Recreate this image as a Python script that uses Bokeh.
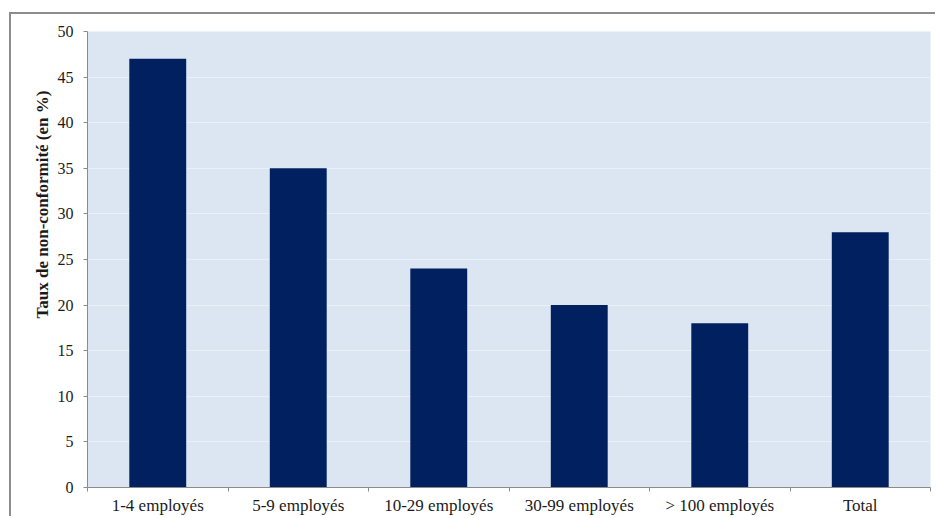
from bokeh.plotting import figure
from bokeh.models import Range1d, LinearAxis, FixedTicker, ColumnDataSource, Title
from bokeh.embed import file_html
from bokeh.resources import INLINE

categories = ["1-4 employés", "5-9 employés", "10-29 employés",
              "30-99 employés", "> 100 employés", "Total"]
taux = [47, 35, 24, 20, 18, 28]
y_ticks = [0, 5, 10, 15, 20, 25, 30, 35, 40, 45, 50]

SERIF = "Liberation Serif"
AXIS_GREY = "#8a8a8a"
TEXT = "#1a1a1a"

n = len(categories)
centers = [i + 0.5 for i in range(n)]
bounds = list(range(n + 1))
source = ColumnDataSource(data=dict(x=centers, taux=taux, cat=categories))

p = figure(
    width=926, height=504,
    x_range=Range1d(0, n),
    y_range=Range1d(0, 50),
    output_backend="svg", toolbar_location=None,
    x_axis_location=None, y_axis_location=None,
    min_border_left=76, min_border_right=7,
    min_border_top=17, min_border_bottom=31,
)
p.margin = (12, 0, 0, 9)
p.styles = {"border-top": "2px solid #8c8c8c", "border-left": "2px solid #8c8c8c"}

p.background_fill_color = "#dce6f2"
p.border_fill_color = "white"
p.outline_line_color = None

p.vbar(x="x", top="taux", width=0.405, source=source,
       fill_color="#002060", line_color=None)

# y axis
yax = LinearAxis(ticker=FixedTicker(ticks=y_ticks))
yax.major_label_text_font = SERIF
yax.major_label_text_font_size = "16px"
yax.major_label_text_color = TEXT
yax.major_label_standoff = 10
yax.axis_line_color = AXIS_GREY
yax.major_tick_line_color = AXIS_GREY
yax.major_tick_in = 0
yax.major_tick_out = 4
yax.minor_tick_line_color = None
p.add_layout(yax, "left")

# y axis title, starting a little above the bottom of the axis
ytitle = Title(text="Taux de non-conformité (en %)", align="left",
               offset=169, standoff=6,
               text_font=SERIF, text_font_size="17px",
               text_font_style="bold", text_color=TEXT)
p.add_layout(ytitle, "left")

# x axis: labels under each bar, tick marks on the category boundaries
xax = LinearAxis(ticker=FixedTicker(ticks=centers, minor_ticks=bounds))
xax.major_label_overrides = {c: lab for c, lab in zip(centers, categories)}
xax.axis_line_color = AXIS_GREY
xax.major_tick_line_color = None
xax.major_tick_in = 0
xax.major_tick_out = 4
xax.minor_tick_line_color = AXIS_GREY
xax.minor_tick_in = 0
xax.minor_tick_out = 4
xax.major_label_text_font = SERIF
xax.major_label_text_font_size = "17px"
xax.major_label_text_color = TEXT
xax.major_label_standoff = 4
p.add_layout(xax, "below")

p.xgrid.grid_line_color = None
p.ygrid.ticker = FixedTicker(ticks=y_ticks)
p.ygrid.grid_line_color = "#eaf0f8"
p.ygrid.grid_line_width = 1

open("out.html", "w").write(file_html(p, INLINE))
